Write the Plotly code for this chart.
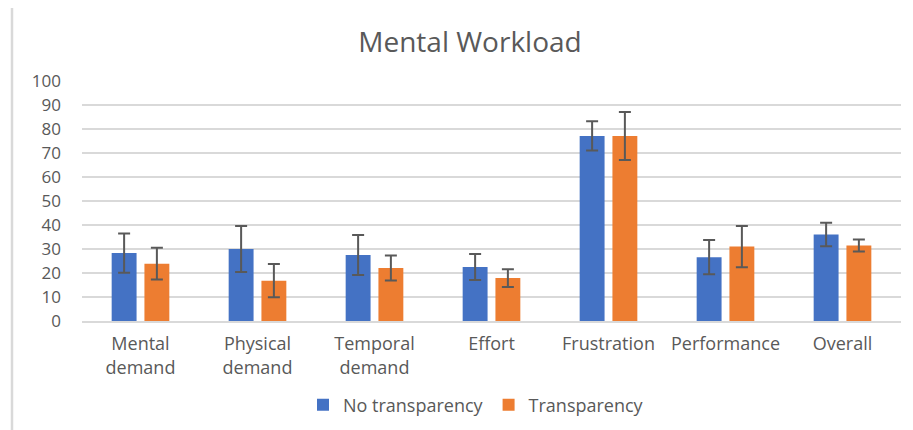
import plotly.graph_objects as go

categories = ["Mental<br>demand", "Physical<br>demand", "Temporal<br>demand", "Effort",
              "Frustration", "Performance", "Overall"]
no_transp = [28.3, 30.0, 27.5, 22.5, 77.1, 26.6, 36.0]
no_transp_err = [8.2, 9.6, 8.3, 5.4, 6.1, 7.1, 4.9]
transp = [23.9, 16.8, 22.1, 17.9, 77.1, 31.0, 31.5]
transp_err = [6.6, 6.9, 5.2, 3.7, 10.0, 8.6, 2.5]
y_ticks = [0, 10, 20, 30, 40, 50, 60, 70, 80, 90, 100]

# page body has an 8px default margin; figure sized to fit the window
OFF = 8
W, H = 913 - OFF, 430 - OFF
# target plot area in screen pixels
SX0, SX1, SY_TOP, SY_BOT = 82, 901, 80.5, 321.5
L, R = SX0 - OFF, W - (SX1 - OFF)
T, B = SY_TOP - OFF, H - (SY_BOT - OFF)
pw, ph = SX1 - SX0, SY_BOT - SY_TOP

def px_x(p):
    return (p - SX0) / pw

def px_y(p):
    return (SY_BOT - p) / ph

FONT = "Open Sans"
GREY = "#595959"
err_style = dict(type="data", thickness=2, width=6, color=GREY)

fig = go.Figure()
fig.add_trace(go.Bar(
    name="No transparency", x=categories, y=no_transp,
    marker=dict(color="#4472C4", line=dict(width=0)),
    error_y=dict(array=no_transp_err, **err_style),
))
fig.add_trace(go.Bar(
    name="Transparency", x=categories, y=transp,
    marker=dict(color="#ED7D31", line=dict(width=0)),
    error_y=dict(array=transp_err, **err_style),
))

fig.update_layout(
    width=W, height=H,
    margin=dict(l=L, r=R, t=T, b=B, autoexpand=False),
    paper_bgcolor="white", plot_bgcolor="white",
    barmode="group", bargap=0.44, bargroupgap=0.24,
    font=dict(family=FONT, color=GREY),
    title=dict(text="Mental Workload", font=dict(size=28, color=GREY, family=FONT),
               xref="paper", x=px_x(470), xanchor="center",
               yref="container", y=1 - (42 - OFF) / H, yanchor="middle"),
    legend=dict(orientation="h", x=px_x(476), xanchor="center",
                y=px_y(406), yanchor="middle",
                font=dict(size=18, color=GREY), itemwidth=30,
                bgcolor="rgba(0,0,0,0)"),
    xaxis=dict(showgrid=False, showline=True, linecolor="#d9d9d9", linewidth=1.5,
               tickfont=dict(size=18, color=GREY), ticks="", ticklabelstandoff=6,
               automargin=False),
    yaxis=dict(range=[0, 100], tickvals=y_ticks, showgrid=True, gridcolor="#d9d9d9",
               gridwidth=1.5, zeroline=False, showline=False,
               tickfont=dict(size=17, color=GREY), ticks="", ticklabelstandoff=20,
               automargin=False),
    shapes=[dict(type="rect", xref="paper", yref="paper",
                 x0=px_x(12), x1=px_x(940), y0=px_y(460), y1=px_y(6),
                 line=dict(color="#d9d9d9", width=2.5), fillcolor="rgba(0,0,0,0)",
                 layer="below")],
)

fig.write_html("out.html")
